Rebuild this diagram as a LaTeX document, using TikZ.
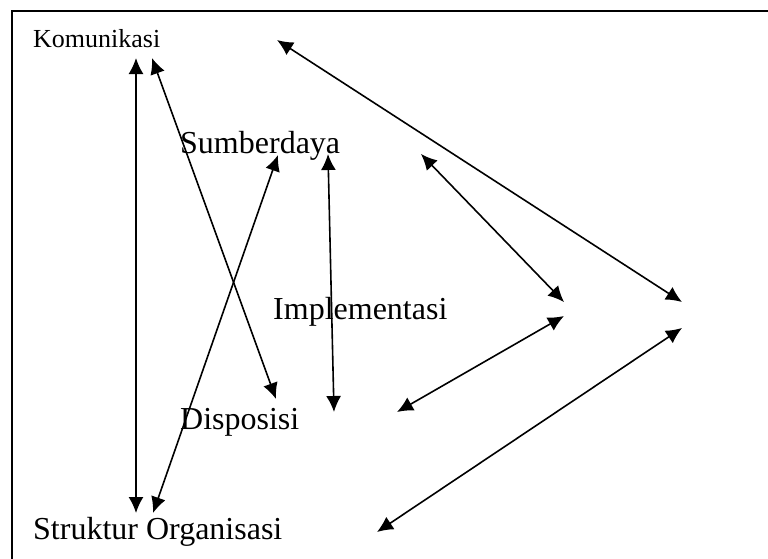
\documentclass[tikz,border=0pt]{standalone}
\usepackage{fontspec}
\setmainfont{Liberation Serif}
\usetikzlibrary{arrows.meta}
\tikzset{
  lbl/.style={anchor=base west, inner sep=0pt, font=\fontsize{32}{38}\selectfont},
  lblsmall/.style={anchor=base west, inner sep=0pt, font=\fontsize{26}{31}\selectfont},
  tip/.tip={Latex[length=16pt,width=15pt]},
  link/.style={line width=1.6pt, tip-tip},
  frame/.style={line width=2pt}
}
\begin{document}
\begin{tikzpicture}[x=1pt,y=-1pt]
\useasboundingbox (0,0) rectangle (768,558);
\draw[frame] (12,560) -- (12,11) -- (770,11);
% labels
\node[lblsmall] (kom) at (33,47) {Komunikasi};
\node[lbl] (sum) at (180,153) {Sumberdaya};
\node[lbl] (imp) at (273,319) {Implementasi};
\node[lbl] (dis) at (180,429) {Disposisi};
\node[lbl] (str) at (33,539) {Struktur Organisasi};
% end points
\coordinate (k1) at (136,58);
\coordinate (s1) at (136,513);
\coordinate (k2) at (152,58);
\coordinate (d2) at (276,399);
\coordinate (su3) at (278,155);
\coordinate (s3) at (153,513);
\coordinate (su4) at (328,154);
\coordinate (d4) at (334,412);
\coordinate (a5) at (421,154);
\coordinate (b5) at (564,302);
\coordinate (a6) at (397,412);
\coordinate (b6) at (564,316);
\coordinate (k7) at (277,40);
\coordinate (r7) at (682,302);
\coordinate (s8) at (377,532);
\coordinate (r8) at (682,328);
% connectors
\draw[link] (k1) -- (s1);
\draw[link] (k2) -- (d2);
\draw[link] (su3) -- (s3);
\draw[link] (su4) -- (d4);
\draw[link] (a5) -- (b5);
\draw[link] (a6) -- (b6);
\draw[link] (k7) -- (r7);
\draw[link] (s8) -- (r8);
\end{tikzpicture}
\end{document}
